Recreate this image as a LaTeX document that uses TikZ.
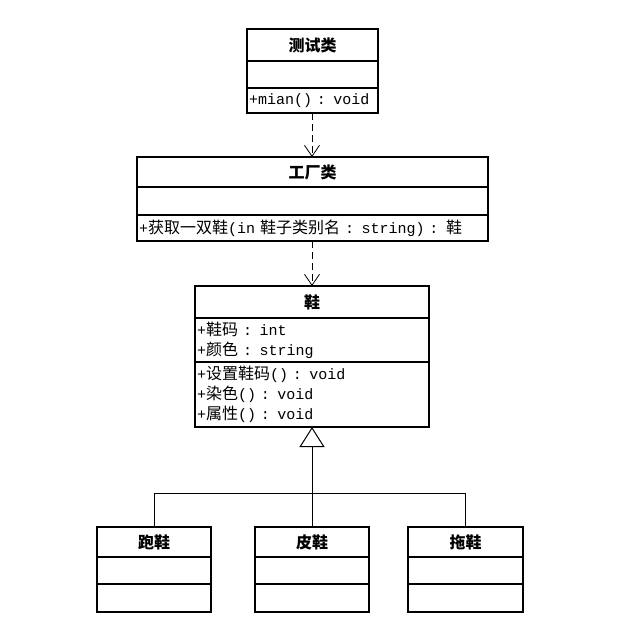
\documentclass[tikz,border=0pt]{standalone}
\usepackage{fontspec}
\setmainfont{Liberation Mono}
\newfontfamily\cjk{Noto Sans CJK SC}
\usetikzlibrary{positioning,arrows.meta}

% class box parts
\tikzset{
  umlhead/.style={draw, line width=1.2pt, outer sep=0pt, inner sep=0pt, anchor=north, font=\cjk\bfseries\fontsize{16}{20}\selectfont},
  umlpart/.style={draw, line width=1.2pt, outer sep=0pt, inner xsep=2pt, inner ysep=0pt, align=left, font=\fontsize{15}{20}\selectfont},
  depline/.style={draw, line width=0.8pt, dash pattern=on 7pt off 4pt, -{Straight Barb[length=11pt,width=15pt,line width=0.8pt]}},
  genline/.style={draw, line width=0.8pt}
}
\newcommand{\cj}[1]{{\cjk\fontsize{16}{20}\selectfont #1}}

\begin{document}
\begin{tikzpicture}[x=1pt, y=-1pt]
\useasboundingbox (0,0) rectangle (635,630);

% test class
\node[umlhead, minimum width=131, minimum height=32] (testT) at (312.5,29) {测试类};
\node[umlpart, minimum width=131, minimum height=27, below=0pt of testT] (testA) {};
\node[umlpart, text width=127, minimum height=25, below=0pt of testA] (testM) {+mian() : void};

% factory class
\node[umlhead, minimum width=351, minimum height=30] (factT) at (312.5,157) {工厂类};
\node[umlpart, minimum width=351, minimum height=28, below=0pt of factT] (factA) {};
\node[umlpart, text width=347, minimum height=26, below=0pt of factA] (factM) {+\cj{获取一双鞋}(in \cj{鞋子类别名} : string) : \cj{鞋}};

% shoe class
\node[umlhead, minimum width=234, minimum height=32] (shoeT) at (312,286) {鞋};
\node[umlpart, text width=230, minimum height=44, below=0pt of shoeT] (shoeA) {+\cj{鞋码} : int\\+\cj{颜色} : string};
\node[umlpart, text width=230, minimum height=65, below=0pt of shoeA] (shoeM) {+\cj{设置鞋码}() : void\\+\cj{染色}() : void\\+\cj{属性}() : void};

% sub classes
\node[umlhead, minimum width=114, minimum height=30] (runT) at (154,527) {跑鞋};
\node[umlpart, minimum width=114, minimum height=27, below=0pt of runT] (runA) {};
\node[umlpart, minimum width=114, minimum height=28, below=0pt of runA] (runM) {};

\node[umlhead, minimum width=114, minimum height=30] (leatherT) at (312,527) {皮鞋};
\node[umlpart, minimum width=114, minimum height=27, below=0pt of leatherT] (leatherA) {};
\node[umlpart, minimum width=114, minimum height=28, below=0pt of leatherA] (leatherM) {};

\node[umlhead, minimum width=115, minimum height=30] (slipT) at (465.5,527) {拖鞋};
\node[umlpart, minimum width=115, minimum height=27, below=0pt of slipT] (slipA) {};
\node[umlpart, minimum width=115, minimum height=28, below=0pt of slipA] (slipM) {};

% dependencies
\draw[depline] (testM.south -| shoeT.north) -- (factT.north -| shoeT.north);
\draw[depline] (factM.south -| shoeT.north) -- (shoeT.north);

% generalization
\coordinate (joint) at (312,493);
\draw[genline] (runT.north) |- (joint);
\draw[genline] (slipT.north) |- (joint);
\draw[genline, -{Triangle[open, length=20pt, width=25pt, line width=1pt]}] (leatherT.north) -- (shoeM.south);
\end{tikzpicture}
\end{document}
